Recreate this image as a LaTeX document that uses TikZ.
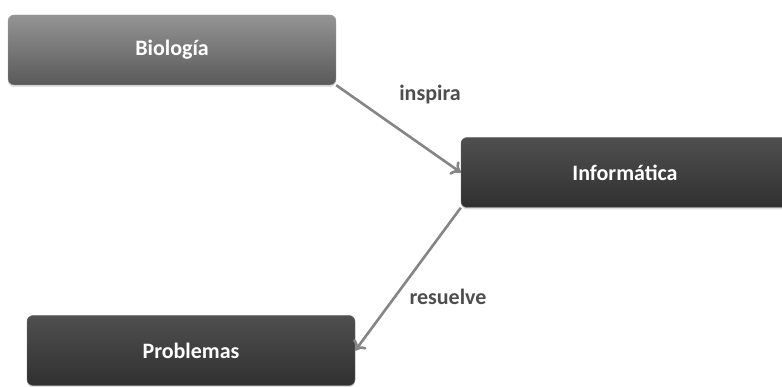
\documentclass[tikz,border=0pt]{standalone}
\usepackage{fontspec}
\setmainfont{Carlito}
\usetikzlibrary{arrows.meta,shadows}
\definecolor{ink}{HTML}{303030}
\definecolor{mutedink}{HTML}{4E4E4E}
\definecolor{linkgray}{HTML}{858585}

\begin{document}
\begin{tikzpicture}[x=1pt, y=-1pt,
    box/.style={rounded corners=6pt, minimum width=328pt, minimum height=70pt,
      inner sep=0pt, font=\fontsize{22}{26}\selectfont\bfseries, text=white,
      drop shadow={shadow xshift=0pt, shadow yshift=-2pt, opacity=0.25}},
    darkbox/.style={box, top color=ink!85, bottom color=ink, draw=ink!70},
    greybox/.style={box, top color=black!42, bottom color=black!65, draw=black!40},
    link/.style={draw=linkgray, line width=2.6pt, -{To[length=9pt,width=16pt]}},
    lbl/.style={font=\fontsize{22}{26}\selectfont\bfseries, text=mutedink}]
    \useasboundingbox (0,0) rectangle (782,387);
    \node[greybox] (bio) at (172,50) {Biología};
    \node[darkbox] (info) at (625,172.5) {Informática};
    \node[darkbox] (prob) at (191,350.5) {Problemas};
    \draw[link] (bio.south east) -- (info.west);
    \draw[link] (info.south west) -- (prob.east);
    \node[lbl] (insp) at (430,95) {inspira};
    \node[lbl] (resu) at (448,297) {resuelve};
  \end{tikzpicture}
\end{document}
